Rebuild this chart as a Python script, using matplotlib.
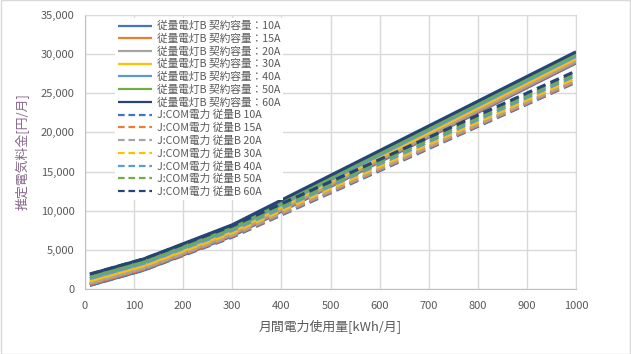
import matplotlib
matplotlib.use("Agg")
import matplotlib.pyplot as plt
from matplotlib.patches import Rectangle

plt.rcParams['font.family'] = ['Noto Sans CJK JP', 'DejaVu Sans']

# ---- data ----
usage = [10, 120, 300, 1000]  # kWh/month (breakpoints of the piecewise-linear curves)

amps = ["10A", "15A", "20A", "30A", "40A", "50A", "60A"]

tepco_10A = [470, 2420, 6770, 28870]
tepco_15A = [610, 2560, 6910, 29010]
tepco_20A = [760, 2710, 7060, 29160]
tepco_30A = [1040, 2990, 7340, 29440]
tepco_40A = [1330, 3280, 7630, 29730]
tepco_50A = [1610, 3560, 7910, 30010]
tepco_60A = [1900, 3850, 8200, 30300]

jcom_10A = [470, 2420, 6620, 26420]
jcom_15A = [610, 2560, 6760, 26560]
jcom_20A = [760, 2710, 6910, 26710]
jcom_30A = [1040, 2990, 7190, 26990]
jcom_40A = [1330, 3280, 7480, 27280]
jcom_50A = [1610, 3560, 7760, 27560]
jcom_60A = [1900, 3850, 8050, 27850]

tepco_series = [tepco_10A, tepco_15A, tepco_20A, tepco_30A, tepco_40A, tepco_50A, tepco_60A]
jcom_series = [jcom_10A, jcom_15A, jcom_20A, jcom_30A, jcom_40A, jcom_50A, jcom_60A]

tepco_labels = ["従量電灯B 契約容量：" + a for a in amps]
jcom_labels = ["J:COM電力 従量B " + a for a in amps]

colors = ["#4472C4", "#ED7D31", "#A5A5A5", "#FFC000", "#5B9BD5", "#70AD47", "#264478"]

x_ticks = [0, 100, 200, 300, 400, 500, 600, 700, 800, 900, 1000]
y_ticks = [0, 5000, 10000, 15000, 20000, 25000, 30000, 35000]

# ---- figure ----
fig = plt.figure(figsize=(6.31, 3.54), dpi=100)
fig.patch.set_facecolor("white")
fig.patches.append(Rectangle((0.0008, 0.0014), 0.9984, 0.9972, transform=fig.transFigure,
                             fill=False, edgecolor="#D9D9D9", linewidth=1.0))

ax = fig.add_axes([85 / 631, 1 - 289 / 354, (576 - 85) / 631, (289 - 15) / 354])

lw = 2.25
for ys, c, lab in zip(tepco_series, colors, tepco_labels):
    ax.plot(usage, ys, color=c, lw=lw, label=lab, solid_capstyle="butt", zorder=3)
for ys, c, lab in zip(jcom_series, colors, jcom_labels):
    ax.plot(usage, ys, color=c, lw=lw, label=lab, linestyle=(0, (3.0, 1.7)),
            dash_capstyle="butt", zorder=3)

ax.set_xlim(0, 1000)
ax.set_ylim(0, 35000)
ax.set_xticks(x_ticks)
ax.set_yticks(y_ticks)
ax.set_xticklabels([str(v) for v in x_ticks])
ax.set_yticklabels([f"{v:,}" for v in y_ticks])
ax.tick_params(axis="both", length=0, labelsize=8, labelcolor="#595959")
ax.tick_params(axis="x", pad=8.5)
ax.tick_params(axis="y", pad=7.5)

ax.grid(True, color="#D9D9D9", linewidth=1.0, zorder=0)
ax.set_axisbelow(True)
for side in ["top", "right"]:
    ax.spines[side].set_color("#D9D9D9")
for side in ["left", "bottom"]:
    ax.spines[side].set_color("#BFBFBF")

ax.set_xlabel("月間電力使用量[kWh/月]", fontsize=9.3, color="#595959", labelpad=6)
ax.set_ylabel("推定電気料金[円/月]", fontsize=9.3, color="#86688A", labelpad=8)

leg = ax.legend(loc="upper left", bbox_to_anchor=(30 / 491, 0.988), fontsize=7.7,
                frameon=True, fancybox=False, edgecolor="none", facecolor="white",
                framealpha=1.0, handlelength=3.2, handletextpad=0.45,
                labelspacing=0.225, borderpad=0.25, borderaxespad=0.0)
leg.set_zorder(10)
for line in leg.get_lines():
    line.set_linewidth(1.6)
for t in leg.get_texts():
    t.set_color("#595959")

fig.savefig("out.png", dpi=100)
